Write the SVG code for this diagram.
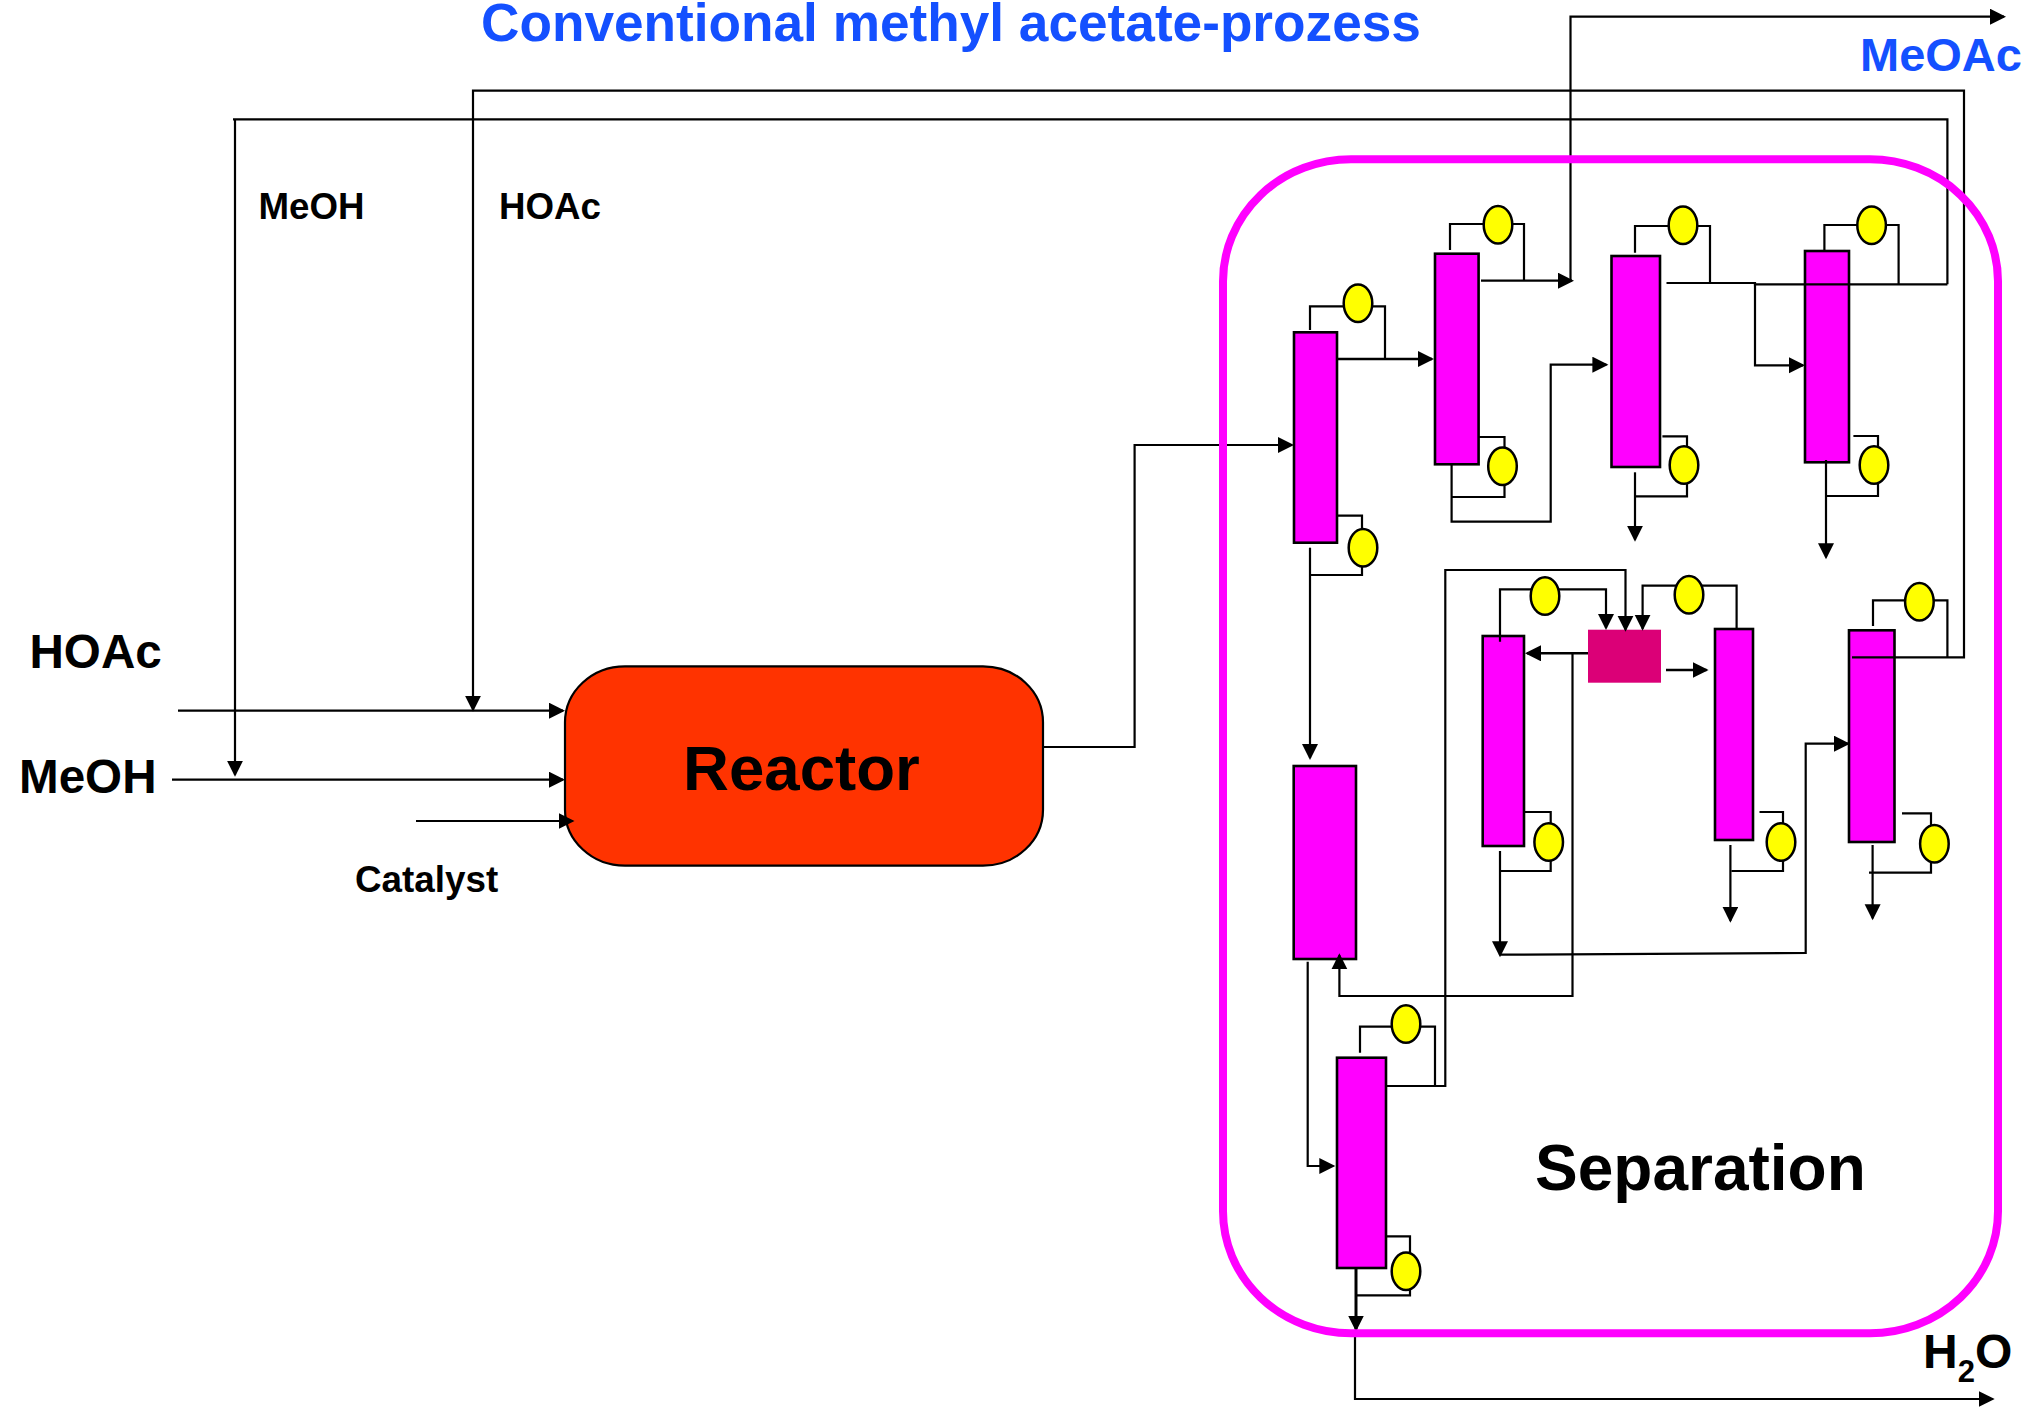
<svg xmlns="http://www.w3.org/2000/svg" width="2034" height="1407" viewBox="0 0 2034 1407">
<defs>
<marker id="a" markerUnits="userSpaceOnUse" markerWidth="18" markerHeight="18" refX="14" refY="8" orient="auto"><path d="M0 0L16 8L0 16Z" fill="#000"/></marker>
</defs>
<style>
.c{fill:#f0f;stroke:#000;stroke-width:2.6}
.e{fill:#ff0;stroke:#000;stroke-width:2.5}
path.l{fill:none;stroke:#000;stroke-width:2.2}
.ar{marker-end:url(#a)}
.t{font-family:"Liberation Sans",Arial,sans-serif;font-weight:700;fill:#000}
.b{fill:#1450ff}
</style>
<rect width="2034" height="1407" fill="#fff"/>
<g id="reactor"><rect x="565" y="666.3" width="478" height="199.4" rx="60" ry="56" fill="#f30" stroke="#000" stroke-width="2.2"/><text class="t" x="683" y="790" font-size="63.6">Reactor</text></g>
<g id="col-a"><rect class="c" x="1294" y="332.3" width="43" height="210.4"/></g>
<g id="col-b"><rect class="c" x="1435" y="253.7" width="43.6" height="210.6"/></g>
<g id="col-c"><rect class="c" x="1611.5" y="256" width="48.5" height="211"/></g>
<g id="col-d"><rect class="c" x="1805" y="251" width="44" height="211.3"/></g>
<g id="col-e"><rect class="c" x="1482.7" y="636" width="41.3" height="210"/></g>
<g id="col-f"><rect class="c" x="1715" y="629" width="38" height="211"/></g>
<g id="col-h"><rect class="c" x="1849" y="630.3" width="45.5" height="211.7"/></g>
<g id="col-g1"><rect class="c" x="1293.7" y="766" width="62.3" height="193"/></g>
<g id="col-g2"><rect class="c" x="1337" y="1057.7" width="49" height="210.3"/></g>
<g id="mixer"><rect x="1588" y="629.7" width="73" height="53" fill="#db0077"/></g>
<g id="connectors">
<path class="l ar" d="M178 710.7H563"/>
<path class="l ar" d="M172 779.7H563"/>
<path class="l ar" d="M416 821H572.5"/>
<path class="l ar" d="M1947.4 284.3V119.3H233M235 119.3V774.7"/>
<path class="l ar" d="M1852 657.3H1964V90.7H473V709.7"/>
<path class="l ar" d="M1043 747H1134.6V445H1292"/>
<path class="l" d="M1310 330V306.3H1385V359"/>
<path class="l ar" style="stroke-width:2.6" d="M1337 359H1432"/>
<path class="l" d="M1337 515.7H1362V575H1310"/>
<path class="l ar" d="M1310 547.7V758"/>
<path class="l" d="M1450 250V224H1524V280.7"/>
<path class="l ar" d="M1481 280.7H1572"/>
<path class="l" d="M1478.6 437H1504.5V497H1451.6"/>
<path class="l ar" d="M1451.6 464V521.7H1550.7V364.7H1606.4"/>
<path class="l ar" d="M1570.5 280.7V16.7H2004"/>
<path class="l" d="M1635 252.7V226H1710V283"/>
<path class="l" d="M1666.5 283H1755V284.3H1947.4"/>
<path class="l ar" d="M1755 283V365.3H1803"/>
<path class="l" d="M1662.4 436.3H1687V496.3H1635"/>
<path class="l ar" d="M1635 472.3V539.7"/>
<path class="l" d="M1824.4 251V225H1898.6V284.3"/>
<path class="l" d="M1853.4 436H1878V496H1826"/>
<path class="l ar" d="M1826 460V557.3"/>
<path class="l ar" d="M1500 641.7V589.3H1606V628"/>
<path class="l ar" style="stroke-width:2.4" d="M1588 653.3H1527"/>
<path class="l" d="M1525 812H1550.7V871H1500"/>
<path class="l ar" d="M1500 851V955.3"/>
<path class="l ar" d="M1500.4 954.7L1805.7 953V743.7H1848"/>
<path class="l ar" style="stroke-width:2.4" d="M1666 670H1706.6"/>
<path class="l ar" d="M1386 1086H1445.3V570H1625.5V629.7"/>
<path class="l ar" d="M1572.5 653.3V996H1339.4V955.3"/>
<path class="l ar" d="M1736.6 629V585.7H1642.6V628.7"/>
<path class="l" d="M1759.5 812H1783V871H1731.4"/>
<path class="l ar" d="M1730.4 845V920.7"/>
<path class="l" d="M1873 626V600.3H1947.4V657.3"/>
<path class="l" d="M1902 813.3H1931V872.7H1869"/>
<path class="l ar" d="M1872.6 845V918.3"/>
<path class="l ar" d="M1307.7 961.7V1166H1333.3"/>
<path class="l" d="M1360 1052.7V1026.7H1435V1086"/>
<path class="l" d="M1386 1236.3H1410V1295.3H1356"/>
<path class="l ar" style="stroke-width:3" d="M1356 1268V1329.5"/>
<path class="l ar" d="M1355 1331V1399H1992.7"/>
</g>
<g id="separation"><rect x="1223" y="159.3" width="775" height="1174" rx="128" ry="122" fill="none" stroke="#f0f" stroke-width="8"/><text class="t" x="1535" y="1190" font-size="64">Separation</text></g>
<g id="cond-a"><ellipse class="e" cx="1358" cy="303.3" rx="14.3" ry="18.8"/></g>
<g id="reb-a"><ellipse class="e" cx="1363" cy="547.7" rx="14.3" ry="18.8"/></g>
<g id="cond-b"><ellipse class="e" cx="1498" cy="224.7" rx="14.3" ry="18.8"/></g>
<g id="reb-b"><ellipse class="e" cx="1502.5" cy="466.3" rx="14.3" ry="18.8"/></g>
<g id="cond-c"><ellipse class="e" cx="1683" cy="225.3" rx="14.3" ry="18.8"/></g>
<g id="reb-c"><ellipse class="e" cx="1684" cy="465" rx="14.3" ry="18.8"/></g>
<g id="cond-d"><ellipse class="e" cx="1871.6" cy="225.3" rx="14.3" ry="18.8"/></g>
<g id="reb-d"><ellipse class="e" cx="1874" cy="465" rx="14.3" ry="18.8"/></g>
<g id="cond-e"><ellipse class="e" cx="1545" cy="596" rx="14.3" ry="18.8"/></g>
<g id="reb-e"><ellipse class="e" cx="1548.7" cy="842" rx="14.3" ry="18.8"/></g>
<g id="cond-f"><ellipse class="e" cx="1689" cy="594.7" rx="14.3" ry="18.8"/></g>
<g id="reb-f"><ellipse class="e" cx="1781" cy="842" rx="14.3" ry="18.8"/></g>
<g id="cond-h"><ellipse class="e" cx="1919.4" cy="601.7" rx="14.3" ry="18.8"/></g>
<g id="reb-h"><ellipse class="e" cx="1934.4" cy="843.7" rx="14.3" ry="18.8"/></g>
<g id="cond-g2"><ellipse class="e" cx="1406" cy="1024" rx="14.3" ry="18.8"/></g>
<g id="reb-g2"><ellipse class="e" cx="1406" cy="1271.3" rx="14.3" ry="18.8"/></g>
<g id="labels">
<text class="t b" x="481" y="41" font-size="53.2">Conventional methyl acetate-prozess</text>
<text class="t b" x="1860" y="70.7" font-size="47">MeOAc</text>
<text class="t" x="29.5" y="668.3" font-size="47.6">HOAc</text>
<text class="t" x="19" y="792.7" font-size="47.6">MeOH</text>
<text class="t" x="355" y="891.7" font-size="36.8">Catalyst</text>
<text class="t" x="258.5" y="219" font-size="36.7">MeOH</text>
<text class="t" x="499" y="219" font-size="36.7">HOAc</text>
<text class="t" x="1923" y="1368" font-size="48">H<tspan font-size="31" dy="13.7">2</tspan><tspan dy="-13.7">O</tspan></text>
</g>
</svg>
